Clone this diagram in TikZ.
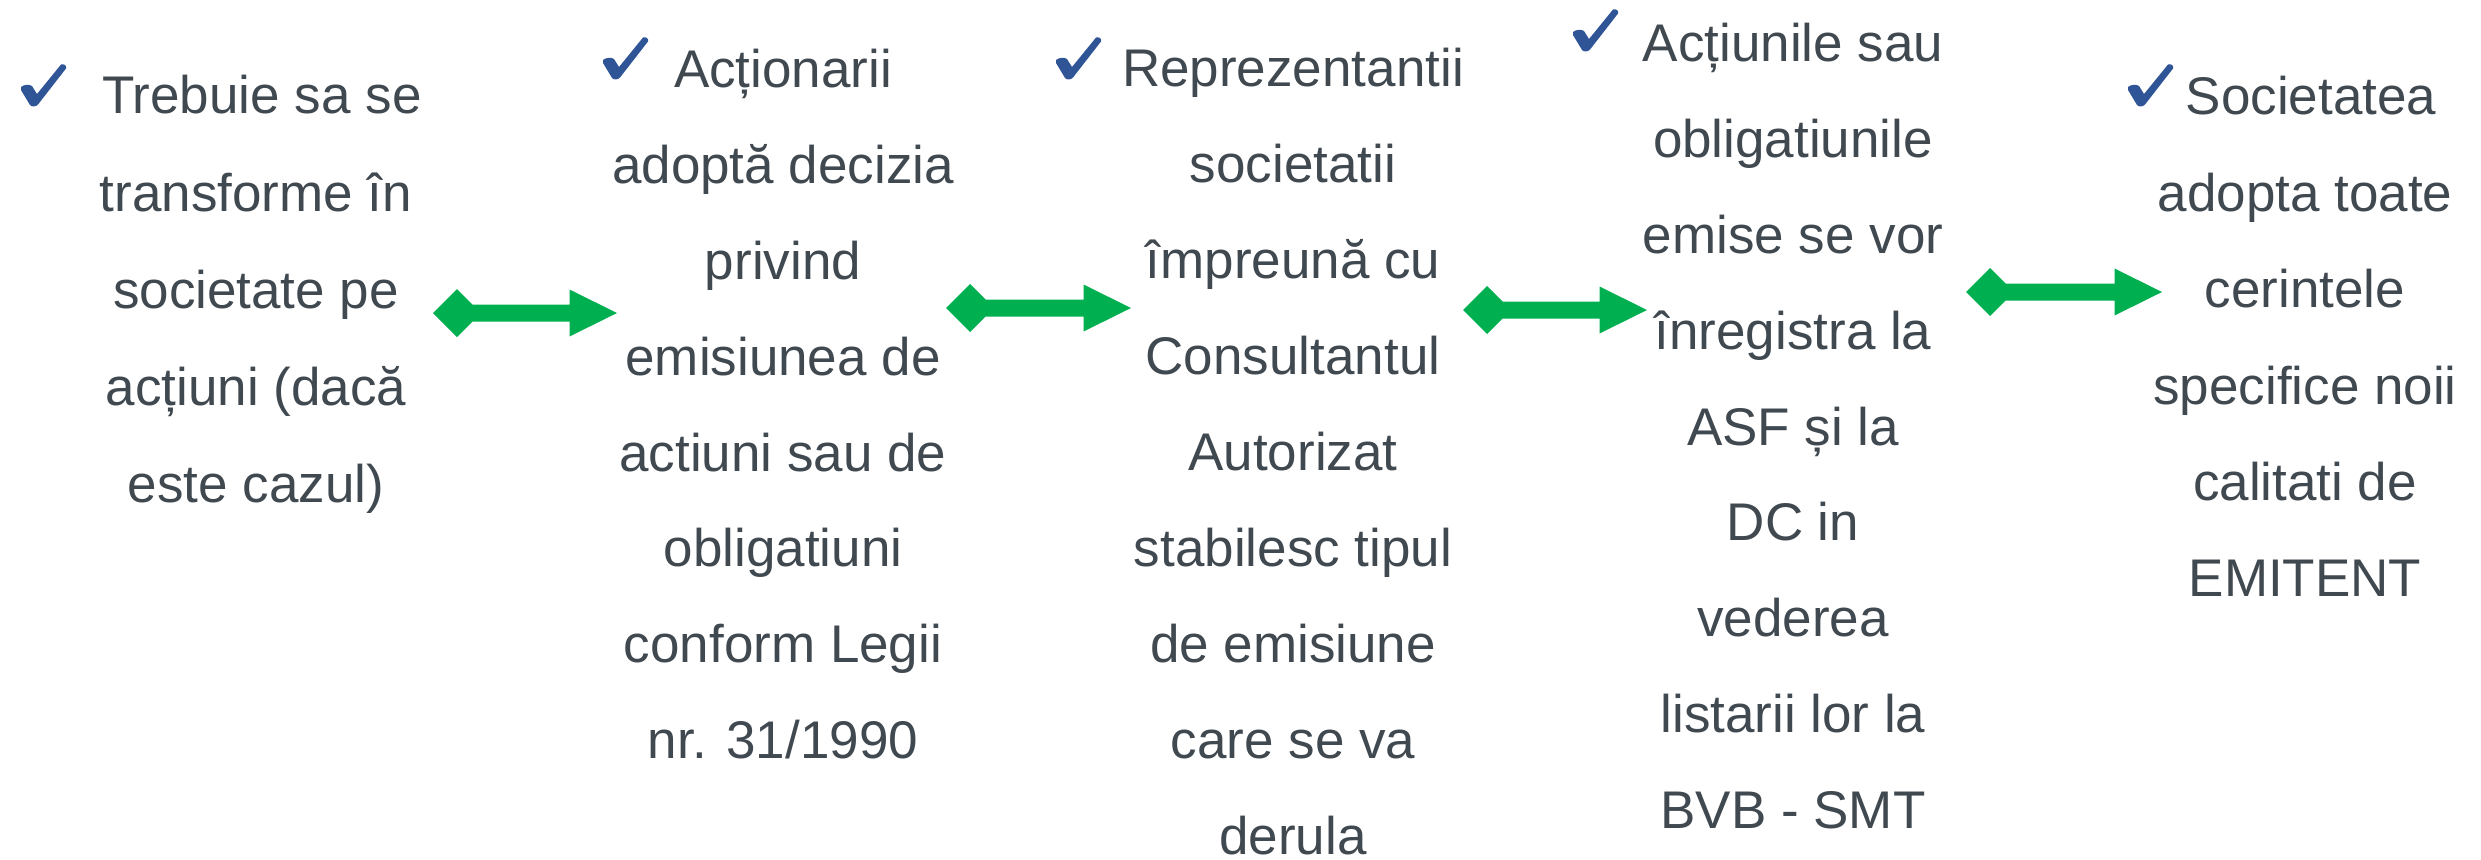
\documentclass[tikz,border=0pt]{standalone}
\usepackage{fontspec}
\setmainfont{Liberation Sans}
\usetikzlibrary{calc}
\definecolor{txtgray}{RGB}{64,72,80}
\definecolor{chkblue}{RGB}{47,85,151}
\definecolor{arrgreen}{RGB}{0,176,80}
\newcommand{\fl}{\rule{0pt}{12pt}}
\newcommand{\garrow}[2]{%
  \fill[arrgreen] (#1) -- ++(24,-24) -- ++(15.5,15.5) -- ($(#2)+(-47.5,-8.5)$) -- ++(0,-15)
    -- (#2) -- ++(-47.5,23.5) -- ++(0,-15) -- ($(#1)+(39.5,8.5)$) -- ++(-15.5,15.5) -- cycle;}
\tikzset{
  coltext/.style={anchor=north, inner sep=0pt, align=center, text=txtgray,
    font={\fontsize{13.25pt}{#1}\selectfont}},
  coltext/.default=24pt,
  checkmark/.pic={
    \fill[chkblue] (0,22) .. controls (3,19.5) and (8,19) .. (11,21)
      -- (16,29) -- (40,-0.5) .. controls (43,-1.5) and (46,0.5) .. (45,3.5)
      -- (17,39.5) .. controls (15,42) and (10.5,42) .. (9,40)
      .. controls (6,35) and (3,30) .. (0,25) -- cycle;
  }
}
\begin{document}
\begin{tikzpicture}[x=0.25pt,y=-0.25pt]
\useasboundingbox (0,0) rectangle (2481,859);

% text columns
\node[coltext=24.3pt] (c1) at (256,65) {\fl\hspace*{3pt}Trebuie sa se\\transforme în\\societate pe\\acțiuni (dacă\\este cazul)};
\node[coltext=23.95pt] (c2) at (783,39) {\fl Acționarii\\adoptă decizia\\privind\\emisiunea de\\actiuni sau de\\obligatiuni\\conform Legii\\nr. 31/1990};
\node[coltext=24pt] (c3) at (1293,38) {\fl Reprezentantii\\societatii\\împreună cu\\Consultantul\\Autorizat\\stabilesc tipul\\de emisiune\\care se va\\derula};
\node[coltext=23.95pt] (c4) at (1793,13) {\fl Acțiunile sau\\obligatiunile\\emise se vor\\înregistra la\\ASF și la\\DC in\\vederea\\listarii lor la\\BVB - SMT};
\node[coltext=24.1pt] (c5) at (2305,66) {\fl\hspace*{3pt}Societatea\\adopta toate\\cerintele\\specifice noii\\calitati de\\EMITENT};

% check marks
\pic at (21,65) {checkmark};
\pic at (603,38) {checkmark};
\pic at (1056,38) {checkmark};
\pic at (1573,10) {checkmark};
\pic at (2128,65) {checkmark};

% arrows
\coordinate (a1s) at (433,313);  \coordinate (a1e) at (617,313);
\coordinate (a2s) at (946,308);  \coordinate (a2e) at (1131,308);
\coordinate (a3s) at (1463,310); \coordinate (a3e) at (1647,310);
\coordinate (a4s) at (1966,292); \coordinate (a4e) at (2162,292);
\garrow{a1s}{a1e}
\garrow{a2s}{a2e}
\garrow{a3s}{a3e}
\garrow{a4s}{a4e}
\end{tikzpicture}
\end{document}
